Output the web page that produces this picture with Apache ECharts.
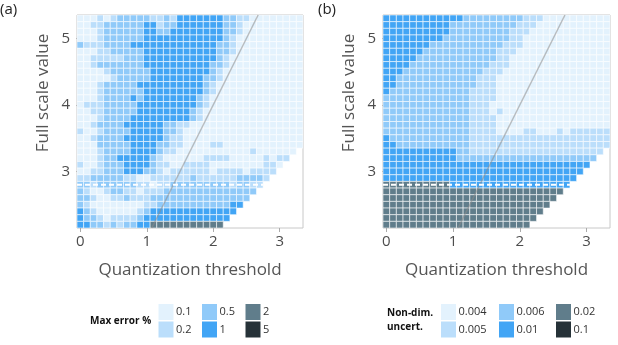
<!DOCTYPE html>
<html>
<head>
<meta charset="utf-8">
<script src="https://cdn.jsdelivr.net/npm/echarts@6.0.0/dist/echarts.min.js"></script>
<style>
  html, body { margin: 0; padding: 0; background: #fff; }
  #chart { width: 618px; height: 345px; }
</style>
</head>
<body>
<div id="chart"></div>
<script>
// cell centres (quantization threshold, full scale value)
const xValues = [0, 0.1, 0.2, 0.3, 0.4, 0.5, 0.6, 0.7, 0.8, 0.9, 1, 1.1, 1.2, 1.3, 1.4, 1.5, 1.6,
  1.7, 1.8, 1.9, 2, 2.1, 2.2, 2.3, 2.4, 2.5, 2.6, 2.7, 2.8, 2.9, 3, 3.1, 3.2, 3.3]
const yValues = [5.3, 5.2, 5.1, 5, 4.9, 4.8, 4.7, 4.6, 4.5, 4.4, 4.3, 4.2, 4.1, 4, 3.9, 3.8,
  3.7, 3.6, 3.5, 3.4, 3.3, 3.2, 3.1, 3, 2.9, 2.8, 2.7, 2.6, 2.5, 2.4, 2.3, 2.2]

// colour class of every cell, one row per yValues entry ("v*n" = v repeated n times)
const levelsA = [
  '0*3 1 0 1 2*5 1 1 2 1 3*7 2 2 1 1 0*8',
  '0 0 1 1 2*6 3 3 1 2 2 3*7 2 2 1 0*9',
  '0*3 1 2*6 3 3 2 2 3*8 2 2 1 0*9',
  '0*3 1 2*6 3*12 2 1 0*10',
  '2 1 1 1 2*4 3*13 2 2 1 0*10',
  '0*3 1 1 2*5 3*11 2 2 1 0*10',
  '0 0 1*5 2*3 3*11 2 1 0*11',
  '0 0 1 2*7 3*10 2 2 1 0*11',
  '0*4 1 2*6 3*9 2 1 0*12',
  '0*5 1 2*5 3*8 2 2 1 0*12',
  '0*3 1 2*5 3*10 2 1 0*13',
  '0*3 1 2*6 3*9 2 1 0*13',
  '0*3 1 2*4 3 2 3*8 2 1 0*14',
  '0 1 1 1 2*5 3*9 2 1 0*14',
  '0 0 1 1 2*5 3*8 2 1 0*15',
  '0*3 1 2*4 3*9 2 1 0*15',
  '0 0 1 2*4 3*6 2 2 1 1 0*17',
  '1 0 0 1 2*4 3*5 2 2 1 0*18',
  '0 0 1 2*4 3*6 2 1 1 0*18',
  '0*3 2*5 3*4 2 2 1 1 0*4 1 1 0*12',
  '0*3 1 2*4 3*4 2 1 1 0*11 1 0*6',
  '0*3 1 2 2 3*5 2 1 0*6 1*4 0*5 1 0 1 1',
  '1 0 0 1 2*3 3*4 2 1 1 0 0 1*4 0*8 1 1 0',
  '0 0 1 1 2*3 3*3 2 2 1 0 1*6 0 1*4 0 1*4',
  '1 1 2*5 1 1 0 0 1*6 2 1*6 2*4 1',
  '2 2 1 2*6 1 1 0 1 1 2*9 1 2 2 1 1',
  '2 1 0 0 1 2 2 1 1 0 1 1 1 2*14',
  '2 2 1 0 0 1 1 2 1 1 1 2*15',
  '2 1 0*8 1 1 2*11 3 3',
  '3 2 1 0*6 1 2 3*13',
  '3 2 2 1 0 1*4 2 3*13',
  '3 3 2 2 1 2 1 2 2 3 3 4*11'
]
const levelsB = [
  '3*12 2*9 1*3 0*10',
  '3*10 2*10 1*3 0*11',
  '3*10 2*9 1*3 0*12',
  '3*9 2*10 1*2 0*13',
  '3*7 2*11 1*3 0*13',
  '3*6 2*11 1*3 0*14',
  '3*5 2*12 1*2 0*15',
  '3*4 2*12 1*3 0*15',
  '3*3 2*12 1*3 0*16',
  '3*2 2*12 1*3 0*17',
  '3*2 2*12 1*3 0*17',
  '3 2*12 1*4 0*17',
  '2*13 1*4 0*17',
  '2*13 1*3 0*18',
  '2*13 1*3 0 1 0*16',
  '2*13 1*4 0*17',
  '2*13 1*4 0*17',
  '2*13 1*4 0*4 1 1 0*3 1 0 1*6',
  '3 2*12 1*21',
  '3 3 2*11 1*21',
  '3*11 2 2 1*20',
  '3*11 2*21',
  '3*31',
  '3*30',
  '3*29',
  '4*10 3*18',
  '4*27',
  '4*26',
  '4*25',
  '4*24',
  '4*23',
  '4*22'
]

// reference lines
const diagX = [1.075, 2.675]
const diagY = [2.15, 5.35]
const cutX = [-0.05, 2.75]
const cutY = [2.8, 2.8]

const legendLabelsA = ['0.1', '0.2', '0.5', '1', '2', '5']
const legendLabelsB = ['0.004', '0.005', '0.006', '0.01', '0.02', '0.1']

const levelColors = ['#E3F2FD', '#BBDEFB', '#90CAF9', '#42A5F5', '#607D8B', '#263238']
const FONT = 'Open Sans'

function expand(row) {
  const out = []
  row.split(' ').forEach(t => {
    const parts = t.split('*')
    const n = parts.length > 1 ? +parts[1] : 1
    for (let k = 0; k < n; k++) out.push(+parts[0])
  })
  return out
}

function cells(levels) {
  const data = []
  levels.forEach((row, j) => {
    expand(row).forEach((lv, i) => {
      data.push([xValues[i], yValues[j], lv])
    })
  })
  return data
}

function renderCell(params, api) {
  const x = api.value(0)
  const y = api.value(1)
  const p0 = api.coord([x - 0.05, y + 0.05])
  const p1 = api.coord([x + 0.05, y - 0.05])
  return {
    type: 'rect',
    shape: {x: p0[0], y: p0[1], width: p1[0] - p0[0], height: p1[1] - p0[1]},
    style: {fill: levelColors[api.value(2)], stroke: 'rgba(255,255,255,0.7)', lineWidth: 0.8}
  }
}

function xAxisFor(idx) {
  return {
    type: 'value', gridIndex: idx, min: -0.05, max: 3.35,
    splitLine: {show: false},
    axisLine: {show: false},
    axisTick: {show: true, customValues: [0, 1, 2, 3], length: 4, lineStyle: {color: '#aaa'}},
    axisLabel: {customValues: [0, 1, 2, 3], fontSize: 15, color: '#4d4d4d', margin: 6, fontFamily: FONT},
    name: 'Quantization threshold', nameLocation: 'middle', nameGap: 34,
    nameTextStyle: {fontSize: 17, color: '#555', fontFamily: FONT}
  }
}

function yAxisFor(idx) {
  return {
    type: 'value', gridIndex: idx, min: 2.15, max: 5.35,
    splitLine: {show: false},
    axisLine: {show: false},
    axisTick: {show: true, customValues: [3, 4, 5], length: 4, lineStyle: {color: '#aaa'}},
    axisLabel: {customValues: [3, 4, 5], fontSize: 15, color: '#4d4d4d', margin: 7, fontFamily: FONT}
  }
}

function yTitle(cx) {
  return {
    type: 'text', x: cx, y: 93, rotation: Math.PI / 2,
    style: {text: 'Full scale value', fontSize: 17, fill: '#555', fontFamily: FONT, align: 'center', verticalAlign: 'middle'}
  }
}

function panelSeries(idx, levels) {
  return [
    {
      type: 'custom', xAxisIndex: idx, yAxisIndex: idx,
      renderItem: renderCell, data: cells(levels),
      encode: {x: 0, y: 1}, clip: true, silent: true, z: 2
    },
    {
      type: 'line', xAxisIndex: idx, yAxisIndex: idx, symbol: 'none', silent: true, z: 3,
      data: diagX.map((x, k) => [x, diagY[k]]),
      lineStyle: {color: 'rgba(140,140,140,0.55)', width: 1.5}
    },
    {
      type: 'line', xAxisIndex: idx, yAxisIndex: idx, symbol: 'none', silent: true, z: 4,
      data: cutX.map((x, k) => [x, cutY[k]]),
      lineStyle: {color: '#fff', width: 2, type: [5, 3]}
    }
  ]
}

// legend blocks: 2 rows x 3 columns of swatches
function legendBlock(swatchX, labels) {
  const els = []
  const rowsY = [304, 321.5]
  labels.forEach((lab, k) => {
    const col = Math.floor(k / 2)
    const row = k % 2
    els.push({
      type: 'rect',
      shape: {x: swatchX[col], y: rowsY[row], width: 15, height: 16},
      style: {fill: levelColors[k]}
    })
    els.push({
      type: 'text', x: swatchX[col] + 17.5, y: rowsY[row] + 8,
      style: {text: lab, fontSize: 11, fill: '#333', fontFamily: FONT, verticalAlign: 'middle'}
    })
  })
  return els
}

const chart = echarts.init(document.getElementById('chart'), null, {renderer: 'canvas'})

chart.setOption({
  animation: false,
  backgroundColor: '#fff',
  grid: [
    {left: 77, top: 15, width: 226, height: 213, show: true, borderColor: '#c8c8c8', borderWidth: 1, backgroundColor: '#fff'},
    {left: 383, top: 15, width: 227, height: 213, show: true, borderColor: '#c8c8c8', borderWidth: 1, backgroundColor: '#fff'}
  ],
  xAxis: [xAxisFor(0), xAxisFor(1)],
  yAxis: [yAxisFor(0), yAxisFor(1)],
  series: panelSeries(0, levelsA).concat(panelSeries(1, levelsB)),
  graphic: [
    {type: 'text', x: 0, y: 2, style: {text: '(a)', fontSize: 15, fill: '#222', fontFamily: FONT}},
    {type: 'text', x: 318, y: 2, style: {text: '(b)', fontSize: 15, fill: '#222', fontFamily: FONT}},
    yTitle(43),
    yTitle(349),
    {type: 'text', x: 90, y: 321, style: {text: 'Max error %', fontSize: 10, fontWeight: 'bold', fill: '#111', fontFamily: FONT, verticalAlign: 'middle'}},
    {type: 'text', x: 387, y: 320, style: {text: 'Non-dim.\nuncert.', fontSize: 10, fontWeight: 'bold', lineHeight: 14, fill: '#111', fontFamily: FONT, verticalAlign: 'middle'}}
  ].concat(legendBlock([158.5, 202, 245.5], legendLabelsA), legendBlock([441, 499, 556], legendLabelsB))
})
</script>
</body>
</html>
